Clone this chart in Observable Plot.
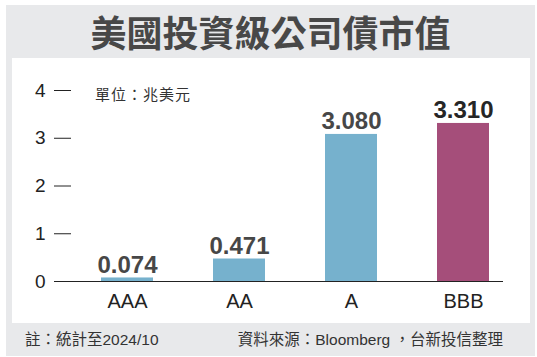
<!DOCTYPE html>
<html>
<head>
<meta charset="utf-8">
<script src="https://cdn.jsdelivr.net/npm/d3@7"></script>
<script src="https://cdn.jsdelivr.net/npm/@observablehq/plot@0.6"></script>
<style>
  html, body { margin: 0; padding: 0; background: #fff; }
  body { width: 537px; height: 357px; position: relative; overflow: hidden;
         font-family: "Liberation Sans", "Noto Sans CJK TC", sans-serif; }
  #outer { position: absolute; left: 6px; top: 5px; width: 529px; height: 351px; background: #e8e9eb; }
  #title { position: absolute; left: 6px; top: 5px; width: 529px; height: 53px; line-height: 53px;
           text-align: center; font-family: "Noto Sans CJK TC", sans-serif; font-weight: 700;
           font-size: 36px; color: #484848; }
  #panel { position: absolute; left: 12px; top: 58px; width: 518px; height: 265px; background: #fff; }
  #chart { position: absolute; left: 0; top: 58px; }
  #unit { position: absolute; left: 95px; top: 83px; font-family: "Noto Sans CJK TC", sans-serif;
          font-size: 15px; letter-spacing: 1px; color: #333; }
  .foot { position: absolute; top: 330px; font-family: "Liberation Sans", "Noto Sans CJK TC", sans-serif;
          font-size: 15.5px; color: #333; line-height: 20px; }
  #noteL { left: 25px; }
  #noteR { right: 34px; }
</style>
</head>
<body>
<div id="outer"></div>
<div id="title">美國投資級公司債市值</div>
<div id="panel"></div>
<div id="chart"></div>
<div id="unit">單位：兆美元</div>
<div class="foot" id="noteL">註：統計至2024/10</div>
<div class="foot" id="noteR">資料來源：Bloomberg ，台新投信整理</div>
<script>
const categories = ["AAA", "AA", "A", "BBB"];
const values = [0.074, 0.471, 3.080, 3.310];
const barColors = ["#76b1cd", "#76b1cd", "#76b1cd", "#a54e7a"];
const labelColors = ["#474747", "#474747", "#474747", "#262626"];
const yTicks = [0, 1, 2, 3, 4];

const data = categories.map((c, i) => ({cat: c, value: values[i], color: barColors[i], lc: labelColors[i]}));

const chart = Plot.plot({
  width: 537,
  height: 265,
  marginLeft: 71,
  marginRight: 19,
  marginTop: 32,
  marginBottom: 42,
  style: {background: "transparent", fontFamily: "'Liberation Sans', 'Noto Sans CJK TC', sans-serif"},
  x: {domain: categories, paddingInner: 0.54, paddingOuter: 0.26, label: null},
  y: {domain: [0, 4], label: null},
  marks: [
    Plot.barY(data, {x: "cat", y: "value", fill: "color"}),
    Plot.ruleY([0], {stroke: "#222", strokeWidth: 1, insetLeft: -17, insetRight: 15}),
    Plot.axisY({ticks: yTicks, tickSize: 17, tickPadding: 9, fontSize: 19, color: "#222", stroke: "#222", label: null, tickFormat: d => String(d)}),
    Plot.axisX({tickSize: 0, tickPadding: 12, fontSize: 20, color: "#222", label: null}),
    Plot.text(data, {x: "cat", y: "value", text: d => d.value.toFixed(3), fill: "lc", fontSize: 24, fontWeight: "bold", lineAnchor: "bottom", dy: -5})
  ]
});
document.getElementById("chart").appendChild(chart);
</script>
</body>
</html>
